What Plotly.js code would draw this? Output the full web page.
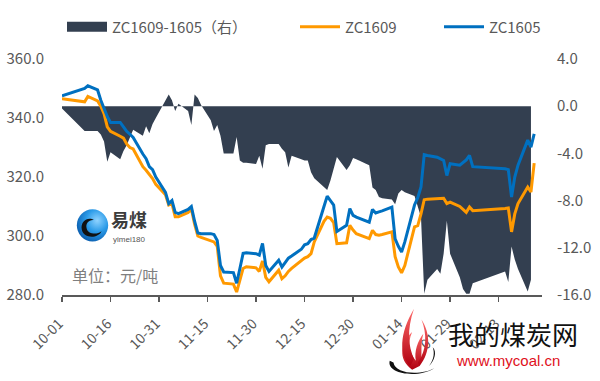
<!DOCTYPE html>
<html>
<head>
<meta charset="utf-8">
<script src="https://cdn.plot.ly/plotly-3.0.1.min.js"></script>
<style>html,body{margin:0;padding:0;background:#fff;}#chart{width:600px;height:381px;}</style>
</head>
<body>
<div id="chart"></div>
<script>
var dates = [
'2015-10-01','2015-10-08','2015-10-09','2015-10-12','2015-10-13','2015-10-14','2015-10-15','2015-10-16',
'2015-10-19','2015-10-20','2015-10-21','2015-10-22','2015-10-23',
'2015-10-26','2015-10-27','2015-10-28','2015-10-29','2015-10-30',
'2015-11-02','2015-11-03','2015-11-04','2015-11-05','2015-11-06',
'2015-11-09','2015-11-10','2015-11-11','2015-11-12','2015-11-13',
'2015-11-16','2015-11-17','2015-11-18','2015-11-19','2015-11-20',
'2015-11-23','2015-11-24','2015-11-25','2015-11-26','2015-11-27',
'2015-11-30','2015-12-01','2015-12-02','2015-12-03','2015-12-04',
'2015-12-07','2015-12-08','2015-12-09','2015-12-10','2015-12-11',
'2015-12-14','2015-12-15','2015-12-16','2015-12-17','2015-12-18',
'2015-12-21','2015-12-22','2015-12-23','2015-12-24','2015-12-25',
'2015-12-28','2015-12-29','2015-12-30','2015-12-31',
'2016-01-04','2016-01-05','2016-01-06','2016-01-07','2016-01-08',
'2016-01-11','2016-01-12','2016-01-13','2016-01-14','2016-01-15',
'2016-01-18','2016-01-19','2016-01-20','2016-01-21','2016-01-22',
'2016-01-25','2016-01-26','2016-01-27','2016-01-28','2016-01-29',
'2016-02-01','2016-02-02','2016-02-03','2016-02-04','2016-02-05',
'2016-02-15','2016-02-16','2016-02-17','2016-02-18','2016-02-19',
'2016-02-22','2016-02-23','2016-02-24'];

var zc1605 = [
347.5,350.0,350.9,349.5,346.0,343.0,340.5,338.5,
338.5,337.0,335.5,334.5,333.4,
327.8,326.2,323.5,322.5,320.0,
314.8,311.0,312.0,308.0,307.6,
309.0,310.0,305.0,301.0,300.8,
300.8,300.5,298.5,290.0,287.8,
287.6,284.0,289.0,294.1,294.3,
294.0,293.5,297.5,290.0,288.0,
291.8,289.5,291.0,292.5,293.2,
295.5,297.0,297.4,298.8,299.3,
310.0,313.5,312.0,310.5,301.5,
303.6,309.3,307.0,306.4,
304.7,309.0,307.8,308.2,308.5,
309.8,299.0,296.5,294.6,298.0,
310.5,313.0,316.6,327.6,327.3,
326.7,326.0,325.6,320.5,324.5,
324.0,324.8,325.8,327.3,323.5,
322.8,322.5,313.2,320.0,324.0,
332.5,330.1,334.6];

var zc1609 = [
346.5,345.5,347.3,345.8,344.0,341.5,337.0,335.5,
333.8,333.2,331.2,330.0,329.5,
323.5,322.3,321.0,319.5,317.5,
314.0,310.5,311.0,306.5,306.5,
308.0,309.2,304.0,300.0,299.5,
298.5,298.0,296.5,286.5,284.0,
283.7,281.0,285.0,289.0,289.6,
289.2,288.0,291.5,286.0,284.5,
288.4,285.5,286.5,288.0,289.0,
291.8,292.5,293.0,294.0,298.0,
305.0,306.4,306.0,304.5,297.4,
297.7,303.6,302.0,300.8,
299.1,301.9,300.5,300.3,300.5,
301.4,293.0,289.5,287.5,290.0,
303.1,303.5,307.5,312.3,312.5,
312.6,312.6,312.8,311.0,311.5,
310.0,309.0,308.0,309.8,308.6,
309.3,309.5,301.4,307.5,311.0,
316.6,314.9,324.7];

var spread = [
-0.2,-2.1,-2.1,-2.1,-2.4,-3.0,-4.7,-3.9,
-4.5,-3.8,-3.3,-2.6,-2.0,
-2.5,-1.7,-2.3,-1.5,-1.0,
0.6,1.0,0.5,-0.4,0.2,
-0.4,-1.6,1.0,0.7,0.1,
-1.2,-2.1,-1.6,-2.5,-4.0,
-4.0,-2.6,-4.6,-4.8,-4.8,
-4.9,-4.2,-5.3,-3.3,-3.2,
-3.2,-3.6,-3.9,-5.2,-4.2,
-4.5,-4.6,-4.6,-5.6,-6.1,
-6.9,-7.1,-6.3,-5.2,-4.3,
-5.4,-5.0,-4.4,-4.5,
-5.0,-6.9,-7.1,-7.7,-7.8,
-7.9,-8.3,-7.4,-7.1,-7.3,
-7.6,-8.5,-9.4,-15.9,-14.7,
-13.8,-14.2,-12.5,-9.7,-12.5,
-14.5,-15.5,-15.9,-15.9,-15.0,
-14.0,-14.9,-11.9,-13.0,-13.8,
-15.7,-14.7];

var leftTicks = [280, 300, 320, 340, 360];
var leftTickText = ['280.0','300.0','320.0','340.0','360.0'];
var rightTicks = [-16, -12, -8, -4, 0, 4];
var rightTickText = ['-16.0','-12.0','-8.0','-4.0','0.0','4.0'];

var names = ['ZC1609-1605（右）', 'ZC1609', 'ZC1605'];
var colors = ['#333f50', '#ff9900', '#0070c0'];

var FONT = '"Noto Sans CJK SC", "Noto Sans", sans-serif';
var GREY = '#595959';

var traces = [
  {type:'scatter', mode:'lines', x: dates.slice(0, spread.length), y: spread, yaxis:'y',
   fill:'tozeroy', fillcolor: colors[0], line:{width:0, color: colors[0]}, showlegend:false, hoverinfo:'skip'},
  {type:'scatter', mode:'lines', x:[null], y:[null], yaxis:'y', name: names[0],
   line:{width:10, color: colors[0]}, legend:'legend'},
  {type:'scatter', mode:'lines', x: dates, y: zc1609, yaxis:'y2', name: names[1],
   line:{width:3, color: colors[1]}, legend:'legend2'},
  {type:'scatter', mode:'lines', x: dates, y: zc1605, yaxis:'y2', name: names[2],
   line:{width:3, color: colors[2]}, legend:'legend3'}
];

var px = function(x){ return (x - 62) / 480; };
var py = function(y){ return (295 - y) / 237; };

var yimeiSvg = '<svg xmlns="http://www.w3.org/2000/svg" viewBox="0 0 40 40">' +
 '<defs><radialGradient id="g" cx="0.65" cy="0.35" r="0.7"><stop offset="0" stop-color="#8fd3ff"/><stop offset="0.5" stop-color="#2b9be8"/><stop offset="1" stop-color="#0b5fb0"/></radialGradient></defs>' +
 '<circle cx="20" cy="20" r="19" fill="url(#g)"/>' +
 '<path d="M31 27 C27 36 9 36 7 25 C5 15 15 9 22 14 C16 13 11 18 13 24 C15 31 26 31 31 27 Z" fill="#111"/>' +
 '</svg>';
var flameSvg = '<svg xmlns="http://www.w3.org/2000/svg" viewBox="0 0 60 80">' +
 '<defs><linearGradient id="f" x1="0" y1="0" x2="0" y2="1"><stop offset="0" stop-color="#ff6b6b"/><stop offset="1" stop-color="#b00010"/></linearGradient></defs>' +
 '<path d="M4 60 C0 75 35 80 52 68 C40 76 10 76 8 62 Z" fill="#111"/>' +
 '<path d="M50 45 C55 50 52 60 46 66 C52 58 52 50 50 45 Z" fill="#111"/>' +
 '<path d="M28 70 C12 58 16 40 28 28 C22 42 26 52 32 60 C30 50 34 38 40 30 C36 44 40 56 36 66 Z" fill="url(#f)"/>' +
 '<path d="M26 66 C14 54 14 30 30 2 C22 26 24 44 30 58 Z" fill="url(#f)"/>' +
 '<path d="M34 62 C44 48 44 30 38 14 C48 30 48 50 36 66 Z" fill="url(#f)"/>' +
 '</svg>';

var legendBase = function(x){
  return {orientation:'h', x:px(x), y:py(27), xanchor:'left', yanchor:'middle', itemwidth:40,
          bgcolor:'rgba(0,0,0,0)', font:{family:FONT, size:15, color:GREY}};
};

var layout = {
  width: 600, height: 381,
  margin: {l:62, r:58, t:58, b:86, pad:0},
  paper_bgcolor:'#ffffff', plot_bgcolor:'#ffffff',
  font: {family: FONT, size: 15, color: GREY},
  showlegend: true,
  xaxis: {
    type:'date', range:['2015-10-01', '2016-02-26 10:00'],
    tick0:'2015-10-01', dtick: 15*86400000, tickformat:'%m-%d', tickangle:-45,
    ticks:'outside', ticklen:5, tickwidth:1.5, tickcolor:GREY,
    showline:true, linecolor:GREY, linewidth:2, showgrid:false, zeroline:false,
    ticklabelstandoff: 8, ticklabelshift: -3,
    tickfont:{family:FONT, size:14, color:GREY}
  },
  yaxis: {
    side:'right', range:[-16, 4], tickvals:rightTicks, ticktext:rightTickText,
    showgrid:false, zeroline:false, showline:false, ticks:'',
    ticklabelstandoff: 14,
    tickfont:{family:FONT, size:15, color:GREY}
  },
  yaxis2: {
    overlaying:'y', side:'left', range:[280, 360], tickvals:leftTicks, ticktext:leftTickText,
    showgrid:false, zeroline:false, showline:false, ticks:'',
    ticklabelstandoff: 17,
    tickfont:{family:FONT, size:15, color:GREY}
  },
  legend: legendBase(62),
  legend2: legendBase(295),
  legend3: legendBase(439),
  images: [
    {source:'data:image/svg+xml;charset=utf-8,' + encodeURIComponent(yimeiSvg), xref:'paper', yref:'paper',
     x:px(76), y:py(208), sizex:33/480, sizey:34/237, sizing:'stretch', xanchor:'left', yanchor:'top', layer:'above'},
    {source:'data:image/svg+xml;charset=utf-8,' + encodeURIComponent(flameSvg), xref:'paper', yref:'paper',
     x:px(386), y:py(307), sizex:56/480, sizey:72/237, sizing:'stretch', xanchor:'left', yanchor:'top', layer:'above'}
  ],
  annotations: [
    {text:'单位：元/吨', xref:'paper', yref:'paper', x:px(70), y:py(275), xanchor:'left', yanchor:'middle',
     showarrow:false, font:{family:FONT, size:16, color:'#7f7f7f'}},
    {text:'<b>易煤</b>', xref:'paper', yref:'paper', x:px(109), y:py(219), xanchor:'left', yanchor:'middle',
     showarrow:false, font:{family:FONT, size:18, color:'#3c3c3c'}},
    {text:'yimei180', xref:'paper', yref:'paper', x:px(111), y:py(239), xanchor:'left', yanchor:'middle',
     showarrow:false, font:{family:'"Liberation Sans", sans-serif', size:8, color:'#555555'}},
    {text:'我的煤炭网', xref:'paper', yref:'paper', x:px(446), y:py(334), xanchor:'left', yanchor:'middle',
     showarrow:false, font:{family:FONT, size:26, color:'#111111'}},
    {text:'www.mycoal.cn', xref:'paper', yref:'paper', x:px(454), y:py(361), xanchor:'left', yanchor:'middle',
     showarrow:false, font:{family:'"Liberation Sans", sans-serif', size:15, color:'#e0101c'}}
  ]
};

Plotly.newPlot('chart', traces, layout, {displayModeBar:false, staticPlot:true});
</script>
</body>
</html>
